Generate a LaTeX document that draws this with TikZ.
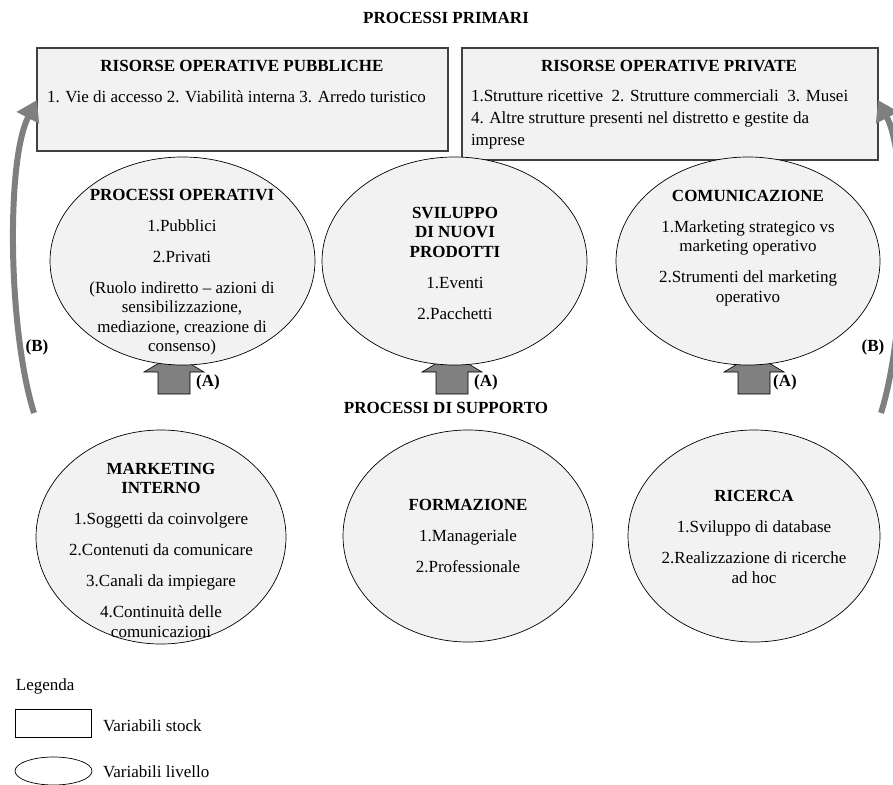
\documentclass[tikz,border=0pt]{standalone}
\usepackage{fontspec}
\setmainfont{Liberation Serif}
\usetikzlibrary{shapes.geometric,arrows.meta}
\definecolor{fillg}{HTML}{F2F2F2}
\definecolor{arrg}{HTML}{7F7F7F}
\definecolor{blockg}{HTML}{808080}
\definecolor{boxline}{HTML}{404040}
\begin{document}
\begin{tikzpicture}[x=1pt,y=-1pt,
  every node/.style={font=\fontsize{17}{19.5}\selectfont, inner sep=0pt, outer sep=0pt},
  stockbox/.style={draw=boxline, line width=1.1pt, fill=fillg, rectangle},
  levell/.style={draw=black, line width=0.7pt, fill=fillg, ellipse},
  txt/.style={align=center},
  ttl/.style={font=\fontsize{17}{19.5}\selectfont\bfseries},
  blockarrow/.style={draw=black, line width=0.6pt, fill=blockg},
  bigarrow/.style={draw=arrg, line width=6pt, -{Triangle[length=20pt,width=24pt]}}
]
\useasboundingbox (0,0) rectangle (893,784);

% titles
\node[ttl] (tprim) at (446,18) {PROCESSI PRIMARI};
\node[ttl] (tsupp) at (446,408) {PROCESSI DI SUPPORTO};

% stock boxes
\node[stockbox, minimum width=411pt, minimum height=103pt] (pub) at (242.5,99.5) {};
\node[stockbox, minimum width=416pt, minimum height=112pt] (priv) at (670,104) {};
\node[ttl] (pubT) at (242,66) {RISORSE OPERATIVE PUBBLICHE};
\node[anchor=west] (pubX) at (47,97) {1. Vie di accesso 2. Viabilità interna 3. Arredo turistico};
\node[ttl] (privT) at (669,66) {RISORSE OPERATIVE PRIVATE};
\node[anchor=west, align=left, font=\fontsize{17}{22}\selectfont] (privX) at (471,119)
  {1.Strutture ricettive\ \ 2. Strutture commerciali\ \ 3. Musei\\
   4. Altre strutture presenti nel distretto e gestite da\\
   imprese};

% curved arrows (B)
\coordinate (bLs) at (34,413);
\coordinate (bRs) at (881,413);
\draw[bigarrow] (bLs) .. controls (8,330) and (6,160) .. (pub.west |- 0,100);
\draw[bigarrow] (bRs) .. controls (907,330) and (909,160) .. (priv.east |- 0,100);
\node[ttl] (bL) at (37,347) {(B)};
\node[ttl] (bR) at (873,347) {(B)};

% block arrows (A)
\foreach \cx/\nm in {174/aL,452/aM,754/aR}{
  \coordinate (\nm) at (\cx,394);
  \draw[blockarrow] (\cx-16,394) -- (\cx-16,372) -- (\cx-30,372) -- (\cx,354)
     -- (\cx+30,372) -- (\cx+16,372) -- (\cx+16,394) -- cycle;
}
\node[ttl] (aLl) at (208,382) {(A)};
\node[ttl] (aMl) at (486,382) {(A)};
\node[ttl] (aRl) at (785,382) {(A)};

% level ellipses (primary)
\node[levell, minimum width=265pt, minimum height=208pt] (po) at (182.5,261) {};
\node[levell, minimum width=265pt, minimum height=208pt] (sv) at (454.5,261) {};
\node[levell, minimum width=264pt, minimum height=208pt] (co) at (748,261) {};

\node[txt] (poT) at (182,272) {\textbf{PROCESSI OPERATIVI}\\[11.5pt]
  1.Pubblici\\[11.5pt] 2.Privati\\[11.5pt]
  (Ruolo indiretto \textendash{} azioni di\\ sensibilizzazione,\\ mediazione, creazione di\\ consenso)};
\node[txt] (svT) at (455,263) {\textbf{SVILUPPO}\\ \textbf{DI NUOVI}\\ \textbf{PRODOTTI}\\[11.5pt]
  1.Eventi\\[11.5pt] 2.Pacchetti};
\node[txt] (coT) at (748,248) {\textbf{COMUNICAZIONE}\\[11.5pt]
  1.Marketing strategico vs\\ marketing operativo\\[11.5pt]
  2.Strumenti del marketing\\ operativo};

% level ellipses (support)
\node[levell, minimum width=250pt, minimum height=214pt] (mi) at (161,537) {};
\node[levell, minimum width=250pt, minimum height=212pt] (fo) at (468,536) {};
\node[levell, minimum width=252pt, minimum height=212pt] (ri) at (754,536) {};

\node[txt] (miT) at (161,550) {\textbf{MARKETING}\\ \textbf{INTERNO}\\[11.5pt]
  1.Soggetti da coinvolgere\\[11.5pt] 2.Contenuti da comunicare\\[11.5pt]
  3.Canali da impiegare\\[11.5pt] 4.Continuità delle\\ comunicazioni};
\node[txt] (foT) at (468,536) {\textbf{FORMAZIONE}\\[11.5pt] 1.Manageriale\\[11.5pt] 2.Professionale};
\node[txt] (riT) at (754,537) {\textbf{RICERCA}\\[11.5pt] 1.Sviluppo di database\\[11.5pt]
  2.Realizzazione di ricerche\\ ad hoc};

% legend
\node[anchor=west] (leg) at (16,686) {Legenda};
\node[draw=black, line width=0.7pt, fill=white, minimum width=76pt, minimum height=28pt] (legR) at (53,723) {};
\node[anchor=west] (legRt) at (103,726) {Variabili stock};
\node[draw=black, line width=0.7pt, fill=white, ellipse, minimum width=77pt, minimum height=28pt] (legE) at (53.5,771) {};
\node[anchor=west] (legEt) at (103,772) {Variabili livello};
\end{tikzpicture}
\end{document}
